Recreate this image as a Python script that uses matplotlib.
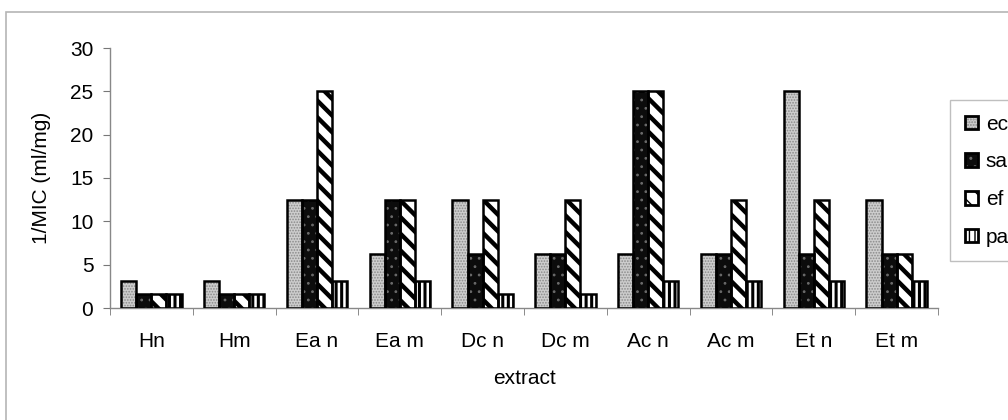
import matplotlib
matplotlib.use("Agg")
import matplotlib.pyplot as plt
import numpy as np
from matplotlib.patches import Rectangle, Patch
from matplotlib.legend_handler import HandlerTuple

plt.rcParams['font.family'] = ['Liberation Sans', 'DejaVu Sans']

extracts = ["Hn", "Hm", "Ea n", "Ea m", "Dc n", "Dc m", "Ac n", "Ac m", "Et n", "Et m"]
ec = [3.125, 3.125, 12.5, 6.25, 12.5, 6.25, 6.25, 6.25, 25, 12.5]
sa = [1.5625, 1.5625, 12.5, 12.5, 6.25, 6.25, 25, 6.25, 6.25, 6.25]
ef = [1.5625, 1.5625, 25, 12.5, 12.5, 12.5, 25, 12.5, 12.5, 6.25]
pa = [1.5625, 1.5625, 3.125, 3.125, 1.5625, 1.5625, 3.125, 3.125, 3.125, 3.125]
series_names = ["ec", "sa", "ef", "pa"]
yticks = [0, 5, 10, 15, 20, 25, 30]

FS = 15

# fill colour, hatch pattern, hatch colour, hatch line width
styles = [
    ("#cdcdcd", "......", "#8a8a8a", 0.8),
    ("#0c0c0c", "..", "#6a6a6a", 0.8),
    ("#ffffff", "\\\\", "#000000", 3.2),
    ("#ffffff", "|||", "#000000", 2.2),
]

fig = plt.figure(figsize=(10.08, 4.2), dpi=100)
fig.patch.set_facecolor("white")

# outer chart frame
fig.patches.append(Rectangle((6 / 1008, -0.05), 1.1, 0.05 + 1 - 12 / 420,
                             transform=fig.transFigure, fill=False,
                             edgecolor="#b5b5b5", linewidth=1.2))

ax = fig.add_axes([110 / 1008, 1 - 308 / 420, (938 - 110) / 1008, (308 - 48) / 420])

x = np.arange(len(extracts))
width = 1 / 5.5
offsets = (np.arange(4) - 1.5) * width
handles = []
for vals, off, (fc, hatch, hc, hlw) in zip([ec, sa, ef, pa], offsets, styles):
    with plt.rc_context({"hatch.linewidth": hlw}):
        fill = ax.bar(x + off, vals, width, color=fc, hatch=hatch,
                      edgecolor=hc, linewidth=0, zorder=2)
        for p in fill:
            if hasattr(p, "set_hatch_linewidth"):
                p.set_hatch_linewidth(hlw)
        ax.bar(x + off, vals, width, fill=False, edgecolor="black",
               linewidth=1.8, zorder=3)
        hp = Patch(facecolor=fc, hatch=hatch, edgecolor=hc, linewidth=0)
        if hasattr(hp, "set_hatch_linewidth"):
            hp.set_hatch_linewidth(hlw)
    op = Patch(fill=False, edgecolor="black", linewidth=2.0)
    handles.append((hp, op))

ax.set_xlim(-0.5, len(extracts) - 0.5)
ax.set_ylim(0, 30)
ax.set_yticks(yticks)
ax.set_xticks(x)
ax.set_xticklabels(extracts)
ax.set_xticks(np.arange(len(extracts) + 1) - 0.5, minor=True)
ax.tick_params(axis="x", which="major", length=0, pad=17, labelsize=FS)
ax.tick_params(axis="x", which="minor", length=5, color="#777777", direction="out")
ax.tick_params(axis="y", length=5, color="#777777", labelsize=FS, pad=7)

for side in ("top", "right"):
    ax.spines[side].set_visible(False)
for side in ("left", "bottom"):
    ax.spines[side].set_color("#888888")
    ax.spines[side].set_linewidth(1.0)

ax.set_ylabel("1/MIC (ml/mg)", fontsize=FS, labelpad=14)
ax.set_xlabel("extract", fontsize=FS, labelpad=13)

leg = fig.legend(handles, series_names, loc="upper left",
                 bbox_to_anchor=(950 / 1008, 1 - 100 / 420),
                 handler_map={tuple: HandlerTuple(ndivide=1)},
                 fontsize=FS, frameon=True, fancybox=False, shadow=False,
                 handlelength=0.62, handleheight=0.62, handletextpad=0.4,
                 labelspacing=0.9, borderpad=0.7, borderaxespad=0)
leg.get_frame().set_edgecolor("#b0b0b0")
leg.get_frame().set_linewidth(1.0)

fig.savefig("out.png", dpi=100)
